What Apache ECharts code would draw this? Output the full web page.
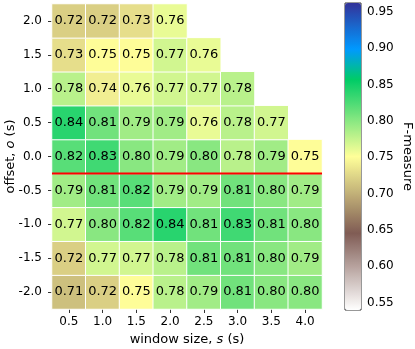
<!DOCTYPE html>
<html>
<head>
<meta charset="utf-8">
<script src="https://cdn.jsdelivr.net/npm/echarts@6/dist/echarts.min.js"></script>
<style>
  html, body { margin: 0; padding: 0; background: #fff; }
  #chart { width: 415px; height: 349px; }
</style>
</head>
<body>
<div id="chart"></div>
<script>
// window size s (columns) and offset o (rows, bottom to top)
const windowSizes = ['0.5', '1.0', '1.5', '2.0', '2.5', '3.0', '3.5', '4.0'];
const offsets = ['-2.0', '-1.5', '-1.0', '-0.5', '0.0', '0.5', '1.0', '1.5', '2.0'];

// F-measure per offset, one value per window size (missing cells left out)
const rowM20 = [0.71, 0.72, 0.75, 0.78, 0.79, 0.81, 0.80, 0.80];
const rowM15 = [0.72, 0.77, 0.77, 0.78, 0.81, 0.81, 0.80, 0.79];
const rowM10 = [0.77, 0.80, 0.82, 0.84, 0.81, 0.83, 0.81, 0.80];
const rowM05 = [0.79, 0.81, 0.82, 0.79, 0.79, 0.81, 0.80, 0.79];
const row00 = [0.82, 0.83, 0.80, 0.79, 0.80, 0.78, 0.79, 0.75];
const row05 = [0.84, 0.81, 0.79, 0.79, 0.76, 0.78, 0.77];
const row10 = [0.78, 0.74, 0.76, 0.77, 0.77, 0.78];
const row15 = [0.73, 0.75, 0.75, 0.77, 0.76];
const row20 = [0.72, 0.72, 0.73, 0.76];
const rows = [rowM20, rowM15, rowM10, rowM05, row00, row05, row10, row15, row20];

// red separator sits between offset 0.0 and -0.5
const separatorOffset = -0.25;

const colorbarTicks = [0.55, 0.60, 0.65, 0.70, 0.75, 0.80, 0.85, 0.90, 0.95];
const vMin = 0.54, vMax = 0.962;

// terrain_r style colour map
const cmapStops = [
    [0.00, [1.0, 1.0, 1.0]],
    [0.25, [0.5, 0.36, 0.33]],
    [0.50, [1.0, 1.0, 0.6]],
    [0.75, [0.0, 0.8, 0.4]],
    [0.85, [0.0, 0.6, 1.0]],
    [1.00, [0.2, 0.2, 0.6]]
];
function cmap(t) {
    for (let k = 1; k < cmapStops.length; k++) {
        const [t1, c1] = cmapStops[k];
        const [t0, c0] = cmapStops[k - 1];
        if (t <= t1) {
            const f = (t - t0) / (t1 - t0);
            const c = c0.map((v, j) => Math.round(255 * (v + (c1[j] - v) * f)));
            return `rgb(${c[0]},${c[1]},${c[2]})`;
        }
    }
    return 'rgb(51,51,153)';
}
const cmapColors = [];
for (let i = 0; i <= 80; i++) cmapColors.push(cmap(i / 80));

const heatData = [];
rows.forEach((row, yi) => row.forEach((v, xi) => heatData.push([xi, yi, v])));

const font = "'DejaVu Sans', sans-serif";
const G = { left: 52, top: 4, width: 270, height: 305, outerBoundsMode: 'none', containLabel: false };
const italic = { i: { fontStyle: 'italic', fontFamily: font, fontSize: 13, color: '#000' } };

const chart = echarts.init(document.getElementById('chart'), null, { renderer: 'canvas' });
chart.setOption({
    animation: false,
    backgroundColor: '#fff',
    textStyle: { fontFamily: font, fontSize: 12, color: '#000' },
    grid: [
        { ...G },
        { ...G },
        { left: 345, top: 3, width: 16, height: 307, outerBoundsMode: 'none', show: true, borderColor: '#333', borderWidth: 1, backgroundColor: 'transparent' }
    ],
    xAxis: [
        {
            type: 'category', data: windowSizes, gridIndex: 0,
            name: 'window size, {i|s} (s)', nameLocation: 'middle', nameGap: 24, nameMoveOverlap: false,
            nameTextStyle: { fontFamily: font, fontSize: 13, color: '#000', rich: italic },
            axisLine: { show: false },
            axisTick: { show: true, alignWithLabel: true, length: 4, lineStyle: { color: '#333' } },
            axisLabel: { fontFamily: font, fontSize: 12, color: '#000', margin: 7 },
            splitLine: { show: false }
        },
        { type: 'value', gridIndex: 1, min: 0.25, max: 4.25, show: false },
        { type: 'value', gridIndex: 2, min: 0, max: 1, show: false }
    ],
    yAxis: [
        {
            type: 'category', data: offsets, gridIndex: 0,
            name: 'offset, {i|o} (s)', nameLocation: 'middle', nameGap: 35, nameMoveOverlap: false,
            nameTextStyle: { fontFamily: font, fontSize: 13, color: '#000', rich: italic },
            axisLine: { show: false },
            axisTick: { show: true, alignWithLabel: true, length: 4, lineStyle: { color: '#333' } },
            axisLabel: { fontFamily: font, fontSize: 12, color: '#000', margin: 10 },
            splitLine: { show: false }
        },
        { type: 'value', gridIndex: 1, min: -2.25, max: 2.25, show: false },
        {
            type: 'value', gridIndex: 2, position: 'right', min: vMin, max: vMax,
            name: 'F-measure', nameLocation: 'middle', nameGap: 40, nameRotate: -90, nameMoveOverlap: false,
            nameTextStyle: { fontFamily: font, fontSize: 13, color: '#000' },
            axisLine: { show: false },
            axisTick: { show: true, length: 4, lineStyle: { color: '#333' }, customValues: colorbarTicks },
            axisLabel: { fontFamily: font, fontSize: 12, color: '#000', margin: 6, customValues: colorbarTicks, formatter: v => v.toFixed(2) },
            splitLine: { show: false }
        }
    ],
    visualMap: {
        type: 'continuous', seriesIndex: 0, min: vMin, max: vMax,
        show: true, calculable: false, orient: 'vertical',
        left: 345, top: 3, itemWidth: 16, itemHeight: 307, padding: 0,
        text: null, showLabel: false,
        inRange: { color: cmapColors }
    },
    series: [
        {
            type: 'heatmap', xAxisIndex: 0, yAxisIndex: 0, data: heatData,
            itemStyle: { borderColor: '#fff', borderWidth: 1 },
            label: { show: true, formatter: p => p.value[2].toFixed(2), fontFamily: font, fontSize: 13, color: '#000' },
            emphasis: { disabled: true }
        },
        {
            type: 'line', xAxisIndex: 1, yAxisIndex: 1, symbol: 'none',
            data: [[0.25, separatorOffset], [4.25, separatorOffset]],
            lineStyle: { color: '#ff0000', width: 2 },
            z: 5
        }
    ]
});
</script>
</body>
</html>
